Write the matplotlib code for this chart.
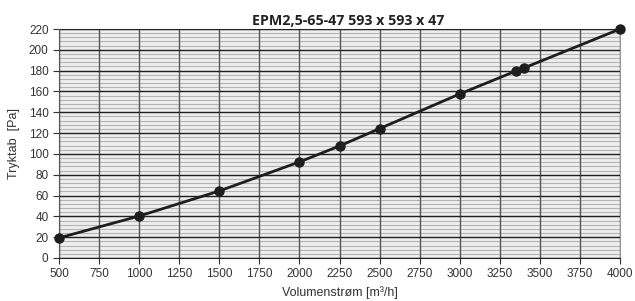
import matplotlib
matplotlib.use("Agg")
import matplotlib.pyplot as plt
import numpy as np

flow = [500, 1000, 1500, 2000, 2250, 2500, 3000, 3350, 3400, 4000]
pressure = [19.3, 40.3, 64.4, 92.3, 107.6, 124.3, 157.6, 179.6, 182.5, 220]
x_ticks = [500, 750, 1000, 1250, 1500, 1750, 2000, 2250, 2500, 2750, 3000, 3250, 3500, 3750, 4000]
y_ticks = list(range(0, 221, 20))
y_minor = list(range(0, 221, 4))
title = "EPM2,5-65-47 593 x 593 x 47"

fig = plt.figure(figsize=(6.35, 3.01), dpi=100)
ax = fig.add_axes([59/635, 1-258/301, (620-59)/635, (258-29)/301])
ax.set_facecolor("#eeeeee")
ax.set_xlim(500, 4000)
ax.set_ylim(0, 220)
ax.set_xticks(x_ticks)
ax.set_yticks(y_ticks)
ax.hlines(y_minor, 500, 4000, color="#b4b4b4", linewidth=0.8, zorder=1)
ax.vlines(x_ticks, 0, 220, color="#555555", linewidth=1.0, zorder=2)
ax.hlines(y_ticks, 500, 4000, color="#222222", linewidth=1.0, zorder=3)
ax.plot(flow, pressure, color="#1e1e1e", linewidth=2, marker="o", markersize=6.5,
        markerfacecolor="#1e1e1e", markeredgecolor="#1e1e1e", clip_on=False, zorder=5)
for s in ["top", "right"]:
    ax.spines[s].set_color("#999999")
ax.spines["left"].set_color("#555555")
ax.spines["bottom"].set_color("#222222")
ax.tick_params(axis="both", which="major", labelsize=8.5, colors="#333333", length=4, labelcolor="#333333")
for lbl in ax.get_xticklabels() + ax.get_yticklabels():
    lbl.set_family("Liberation Sans")
ax.set_xlabel("Volumenstrøm [m³/h]", fontsize=9, family="Liberation Sans", color="#333333", labelpad=4)
ax.set_ylabel("Tryktab  [Pa]", fontsize=9, family="Liberation Sans", color="#333333", labelpad=6)
ax.set_title(title, fontsize=10.3, fontweight="bold", family="Open Sans", color="#222222", pad=3, x=0.515)
fig.savefig("out.png", dpi=100)
